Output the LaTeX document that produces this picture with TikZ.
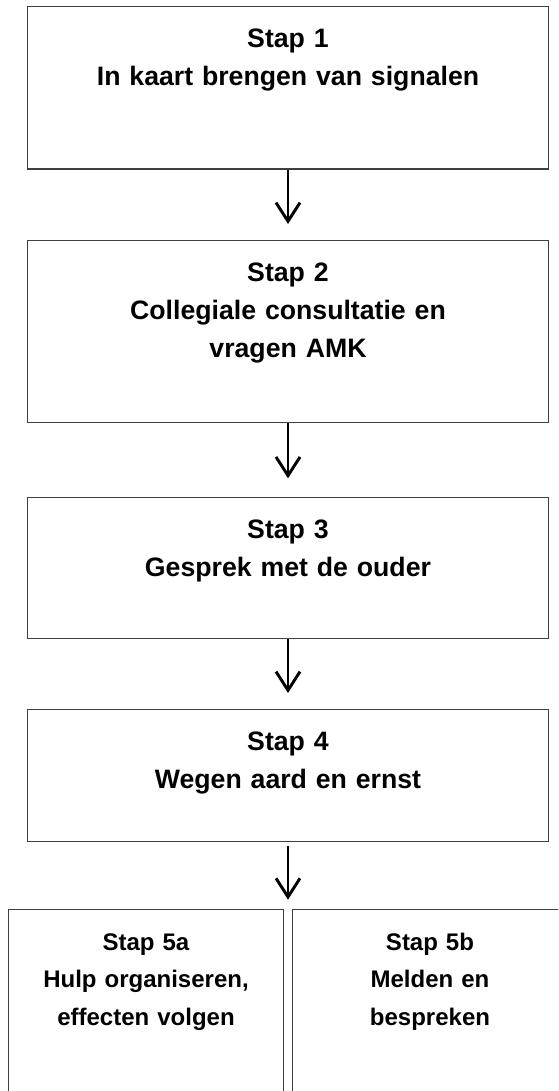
\documentclass[tikz,border=0pt]{standalone}
\usepackage{fontspec}
\setmainfont{Liberation Sans}
\usetikzlibrary{arrows.meta,positioning}

\tikzset{
  stap/.style={draw=black!75, line width=0.9pt, anchor=north, inner sep=0pt,
    align=center, text height=30.75pt,
    font=\bfseries\fontsize{20}{28.5}\selectfont},
  breed/.style={stap, text width=391pt},
  smal/.style={stap, text width=206pt, font=\bfseries\fontsize{18}{28}\selectfont},
  pijl/.style={-{Straight Barb[length=14pt,width=18pt]}, line width=2.2pt, shorten >=12pt}
}

\begin{document}
\begin{tikzpicture}[x=0.75pt,y=-0.75pt]
\useasboundingbox (0,0) rectangle (558,1091);
\clip (0,0) rectangle (558,1091);
\node[breed, text depth=91pt] (s1) at (288,6) {Stap 1\\In kaart brengen van signalen};
\node[breed, text depth=105.75pt] (s2) at (288,240) {Stap 2\\Collegiale consultatie en\\vragen AMK};
\node[breed, text depth=75pt] (s3) at (288,497) {Stap 3\\Gesprek met de ouder};
\node[breed, text depth=68.25pt] (s4) at (288,709) {Stap 4\\Wegen aard en ernst};
\node[smal, text depth=119.25pt] (s5a) at (146,909) {Stap 5a\\Hulp organiseren,\\effecten volgen};
\node[smal, text depth=119.25pt] (s5b) at (430,909) {Stap 5b\\Melden en\\bespreken};
\coordinate (splits) at (288,909);

\path
(s1) edge[pijl] (s2)
(s2) edge[pijl, shorten >=14pt] (s3)
(s3) edge[pijl] (s4)
(s4) edge[pijl, shorten <=3pt, shorten >=7pt] (splits);
\end{tikzpicture}
\end{document}
